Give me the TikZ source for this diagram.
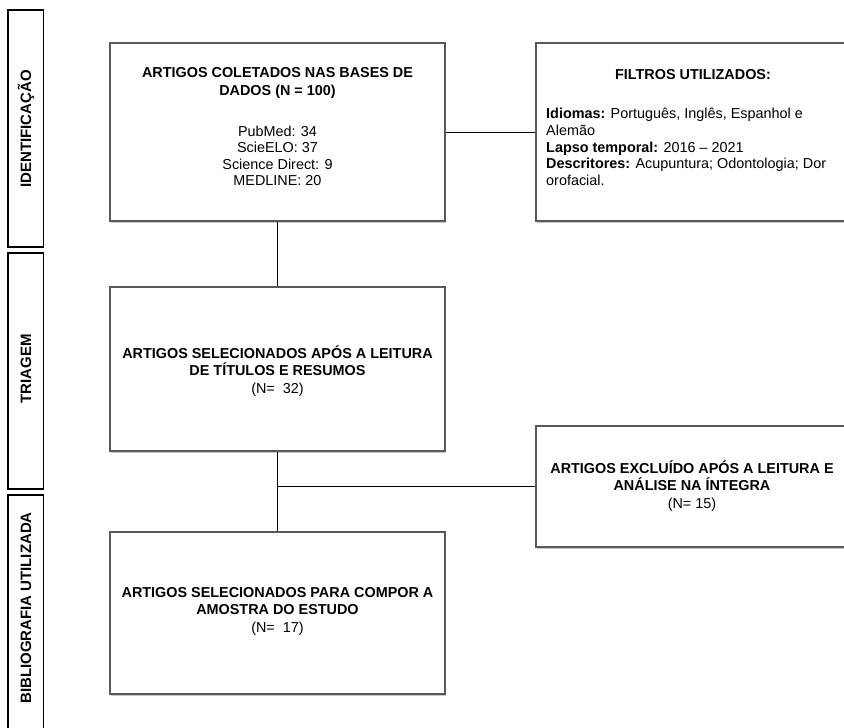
\documentclass[tikz,border=0pt]{standalone}
\usepackage{fontspec}
\setmainfont{Liberation Sans}
\usetikzlibrary{shadows}
\begin{document}
\begin{tikzpicture}[x=1pt,y=-1pt,
  stagebox/.style={draw=black, line width=1.2pt, minimum width=35.7pt, inner sep=0pt},
  flowbox/.style={draw=black!65, line width=1.1pt, fill=white, inner sep=0pt,
    drop shadow={shadow xshift=0.6pt, shadow yshift=-1.6pt, fill=black!22, opacity=1}},
  conn/.style={draw=black, line width=0.9pt},
  txt/.style={font=\fontsize{14.4}{17.5}\selectfont, align=center, inner sep=0pt},
  stagetxt/.style={font=\fontsize{15}{18}\selectfont\bfseries, rotate=90, inner sep=0pt}
]
\useasboundingbox (0,0) rectangle (844,728);
\begin{scope}
\clip (0,0) rectangle (844,728);
% stage boxes
\node[stagebox, minimum height=237pt] (s1) at (25.9,128.5) {};
\node[stagebox, minimum height=236pt] (s2) at (25.9,371) {};
\node[stagebox, minimum height=245pt] (s3) at (25.9,617.5) {};
\node[stagetxt] (s1t) at (26,129) {IDENTIFICAÇÃO};
\node[stagetxt] (s2t) at (26,369) {TRIAGEM};
\node[stagetxt] (s3t) at (26,608) {BIBLIOGRAFIA UTILIZADA};
% flow boxes
\node[flowbox, minimum width=335pt, minimum height=178pt] (b1) at (277.5,132) {};
\node[flowbox, minimum width=324pt, minimum height=178pt] (f) at (698,132) {};
\node[flowbox, minimum width=335pt, minimum height=164pt] (b2) at (277.5,369) {};
\node[flowbox, minimum width=324pt, minimum height=121pt] (e) at (698,486.5) {};
\node[flowbox, minimum width=335pt, minimum height=162pt] (b3) at (277.5,613) {};
\end{scope}
% texts
\node[txt] (b1a) at (277.5,83) {\bfseries ARTIGOS COLETADOS NAS BASES DE\\\bfseries DADOS (N = 100)};
\node[txt, font=\fontsize{14.4}{16.5}\selectfont] (b1b) at (277.5,156) {PubMed: 34\\ScieELO: 37\\Science Direct: 9\\MEDLINE: 20};
\node[txt] (fa) at (693,75) {\bfseries FILTROS UTILIZADOS:};
\node[txt, align=left, anchor=west, font=\fontsize{14.4}{16.75}\selectfont] (fb) at (546,147) {\textbf{Idiomas:} Português, Inglês, Espanhol e\\Alemão\\\textbf{Lapso temporal:} 2016 – 2021\\\textbf{Descritores:} Acupuntura; Odontologia; Dor\\orofacial.};
\node[txt] (b2t) at (277.5,371) {\bfseries ARTIGOS SELECIONADOS APÓS A LEITURA\\\bfseries DE TÍTULOS E RESUMOS\\(N=\ \ 32)};
\node[txt] (et) at (692,486) {\bfseries ARTIGOS EXCLUÍDO APÓS A LEITURA E\\\bfseries ANÁLISE NA ÍNTEGRA\\(N= 15)};
\node[txt] (b3t) at (277.5,611) {\bfseries ARTIGOS SELECIONADOS PARA COMPOR A\\\bfseries AMOSTRA DO ESTUDO\\(N=\ \ 17)};
% connectors
\coordinate (j) at (b2.south |- e.west);
\draw[conn] (b1.east) -- (f.west);
\draw[conn] (b1.south) -- (b2.north);
\draw[conn] (b2.south) -- (b3.north);
\draw[conn] (j) -- (e.west);
\end{tikzpicture}
\end{document}
